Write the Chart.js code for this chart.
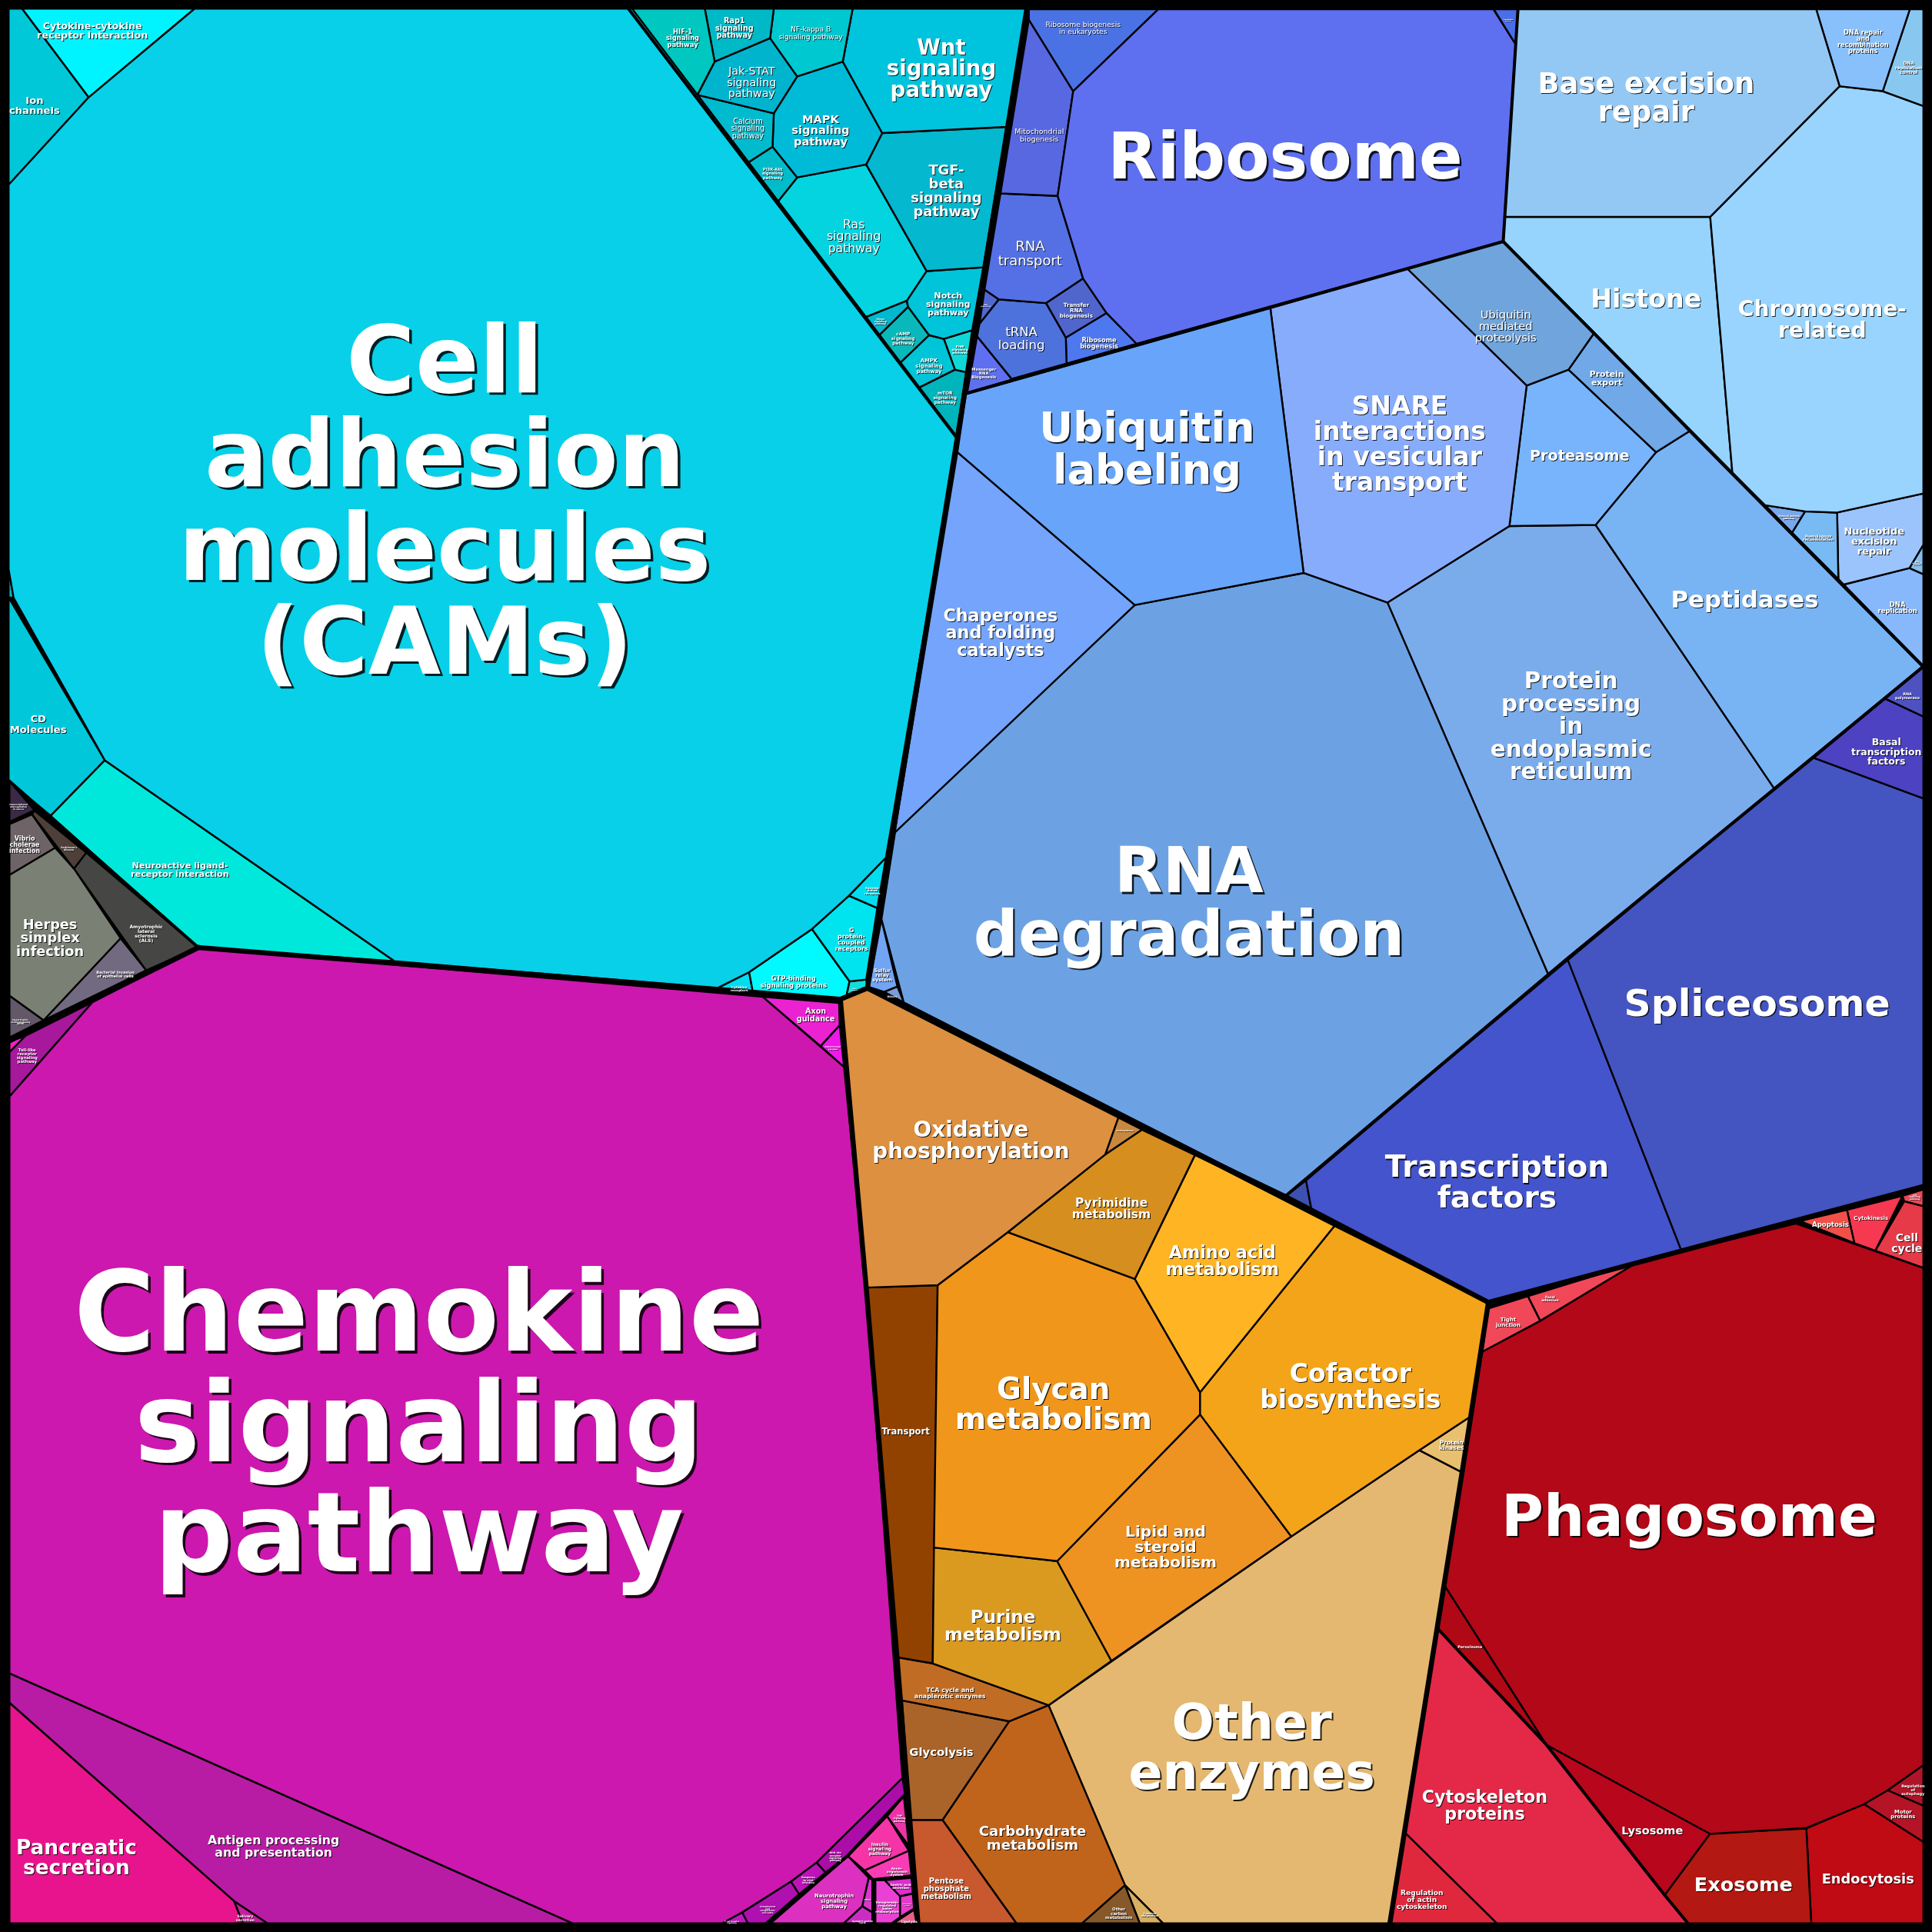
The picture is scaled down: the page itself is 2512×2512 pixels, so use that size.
<!DOCTYPE html>
<html lang="en">
<head>
<meta charset="UTF-8" />
<title>Proteomap</title>
<script src="https://cdn.jsdelivr.net/npm/chart.js"></script>
<style>
  html, body { margin: 0; padding: 0; background: #000; overflow: hidden; }
  #wrap { width: 2512px; height: 2512px; }
</style>
</head>
<body>
<div id="wrap"><canvas id="map"></canvas></div>
<script>
// one line per cell, same order in every array below
const cellNames = [
  // signaling, cyan
  "Cell\nadhesion\nmolecules\n(CAMs)", "Cytokine-cytokine\nreceptor interaction", "Ion\nchannels", "CD\nMolecules", "",
  "Neuroactive ligand-\nreceptor interaction", "HIF-1\nsignaling\npathway", "Rap1\nsignaling\npathway", "NF-kappa B\nsignaling pathway",
  "Wnt\nsignaling\npathway", "Jak-STAT\nsignaling\npathway", "Calcium\nsignaling\npathway", "MAPK\nsignaling\npathway",
  "PI3K-Akt\nsignaling\npathway", "TGF-\nbeta\nsignaling\npathway", "Ras\nsignaling\npathway", "Notch\nsignaling\npathway",
  "Hippo\nsignaling\npathway", "cAMP\nsignaling\npathway", "AMPK\nsignaling\npathway", "ErbB\nsignaling\npathway", "mTOR\nsignaling\npathway",
  "Enzyme-\nlinked\nreceptors", "G\nprotein-\ncoupled\nreceptors", "Other\nreceptors", "GTP-binding\nsignaling proteins", "Cytokine\nreceptors",
  // infection, grey
  "Transcriptional\nmisregulation\nin cancer", "Vibrio\ncholerae\ninfection", "Parkinson's\ndisease", "Herpes\nsimplex\ninfection",
  "Amyotrophic\nlateral\nsclerosis\n(ALS)", "Bacterial invasion\nof epithelial cells", "Hypertrophic\ncardiomyopathy\n(HCM)",
  // magenta
  "Chemokine\nsignaling\npathway", "Toll-like\nreceptor\nsignaling\npathway", "", "Axon\nguidance", "Dopaminergic\nsynapse",
  "Pancreatic\nsecretion", "Salivary\nsecretion", "Antigen processing\nand presentation",
  "NOD-like\nreceptor\nsignaling\npathway", "Response\nto viral\ninfection", "Complement\nand\ncoagulation\ncascades", "T cell receptor\nsignaling",
  "TNF\nsignaling\npathway", "Insulin\nsignaling\npathway", "Renin-\nangiotensin\nsystem", "Neurotrophin\nsignaling\npathway", "Prion",
  "Synaptic vesicle\ncycle", "Vasopressin-\nregulated\nwater\nreabsorption", "Gastric acid\nsecretion", "Serotonergic\nsynapse", "Lipolysis",
  // metabolism, orange
  "Oxidative\nphosphorylation", "Photosynthesis", "Pyrimidine\nmetabolism", "Amino acid\nmetabolism", "Cofactor\nbiosynthesis", "Protein\nkinases",
  "Glycan\nmetabolism", "Lipid and\nsteroid\nmetabolism", "Purine\nmetabolism", "Transport", "TCA cycle and\nanaplerotic enzymes",
  "Glycolysis", "Carbohydrate\nmetabolism", "Pentose\nphosphate\nmetabolism", "Other\ncarbon\nmetabolism", "Cysteine\nmetabolism", "Other\nenzymes",
  // ribosome, blue
  "Ribosome", "Ribosome biogenesis\nin eukaryotes", "Mitochondrial\nbiogenesis", "RNA\ntransport", "RNA\nprocessing",
  "Transfer\nRNA\nbiogenesis", "tRNA\nloading", "Ribosome\nbiogenesis", "Messenger\nRNA\nBiogenesis", "Translation\nfactors",
  // folding, light blue
  "Ubiquitin\nlabeling", "Chaperones\nand folding\ncatalysts", "SNARE\ninteractions\nin vesicular\ntransport", "Ubiquitin\nmediated\nproteolysis",
  "Protein\nexport", "Proteasome", "Peptidases", "RNA\ndegradation", "Sulfur\nrelay\nsystem", "Others", "Protein\nprocessing\nin\nendoplasmic\nreticulum",
  // transcription, indigo
  "RNA\npolymerase", "Basal\ntranscription\nfactors", "Spliceosome", "Transcription\nfactors", "",
  // DNA, pale blue
  "Base excision\nrepair", "DNA repair\nand\nrecombination\nproteins", "DNA\nreplication\ncontrol", "Chromosome-\nrelated", "Histone",
  "Fanconi anemia\npathway", "Homologous\nrecombination", "Nucleotide\nexcision\nrepair", "DNA\nreplication\nproteins", "DNA\nreplication",
  // cellular processes, red
  "Tight\njunction", "Focal\nadhesion", "Apoptosis", "Cytokinesis", "Cell\ncycle", "p53\nsignaling\npathway", "Phagosome", "Peroxisome",
  "Cytoskeleton\nproteins", "Regulation\nof actin\ncytoskeleton", "Lysosome", "Exosome", "Endocytosis", "Motor\nproteins", "Regulation\nof\nautophagy"
];

// these few are set in the lighter weight in the picture
const regularLabels = [
  "Ras\nsignaling\npathway", "Jak-STAT\nsignaling\npathway", "Calcium\nsignaling\npathway", "NF-kappa B\nsignaling pathway",
  "Ribosome biogenesis\nin eukaryotes", "Mitochondrial\nbiogenesis", "RNA\ntransport", "tRNA\nloading", "Ubiquitin\nmediated\nproteolysis"
];

// vertices, x,y,x,y... on a 0-1568 square
const cellOutlines = [
  [158,7,513,7,777,355,719,696,689,727,659,754,608,789,582,802,320,780,85,617,11,485,7,462,7,150,72,79],
  [18,7,158,7,72,79],
  [7,7,18,7,72,79,7,150],
  [7,485,85,617,41,662,7,634],
  [7,462,11,485,7,485],
  [85,617,320,780,161,769,41,662],
  [510,7,572,7,580,50,566,77],
  [572,7,628,7,625,31,580,50],
  [628,7,692,7,684,50,647,62,625,31],
  [692,7,833,7,817,103,716,108,684,50],
  [580,50,625,31,647,62,628,92,566,77],
  [566,77,628,92,627,119,607,132],
  [647,62,684,50,716,108,703,133.5,647,144,627,119,628,92],
  [607,132,627,119,647,144,631,164],
  [716,108,817,103,798,217,752,220,703,133.5],
  [647,144,703,133.5,752,220,736,244,702,257.5,631,164],
  [752,220,798,217,789,268,766,275,754,272,737,249,736,244],
  [702,257.5,736,244,737,249,713,272.5],
  [713,272.5,737,249,754,272,730,295],
  [730,295,754,272,766,275,775,300,745,315],
  [766,275,789,268,784,302,775,300],
  [745,315,775,300,784,302,776,356],
  [719,696,712,737,689,727],
  [689,727,712,737,703,795,689.5,796.5,659,754],
  [689.5,796.5,703,795,704,802,687,808],
  [608,789,659,754,689.5,796.5,687,808,682,811,611,805],
  [582,802,608,789,611,805],
  [7.7,634,28,657.5,7.7,667],
  [7.7,669,26,661,44.7,688,7.7,710],
  [28,658,70,692,60,705,26,661],
  [7.7,710,44.7,688,60,705,97.8,761.5,35.4,828,7.7,808],
  [70,692,161,769,118.6,787.5,60,705],
  [97.8,761.5,118.6,787.5,35.4,828],
  [7.7,808,35.4,828,7.7,842],
  [7.7,890,75,813.5,161,769,619,809,685,866,703,1045,732.4,1443,662.7,1511.6,642,1527,602.4,1552,586,1561,465,1561,7.7,1358],
  [75,813.5,7.7,890,7.7,854,20.8,840.6],
  [7.7,845,20.8,841,7.7,854],
  [619,809,681,814,681.5,832,666,849],
  [666,849,681.5,832,685,866],
  [7.7,1382,190,1543,197,1561,7.7,1561],
  [190,1543,217,1561,197,1561],
  [7.7,1358,465,1561,217,1561,190,1543,7.7,1382],
  [732.4,1443,734.5,1456.5,687.7,1506,670.4,1520,662.7,1511.6],
  [662.7,1511.6,670.4,1520,648.8,1537.7,642,1527],
  [642,1527,648.8,1537.7,622,1561,607,1561,602.4,1552],
  [602.4,1552,607,1561,586,1561],
  [720,1474,733.5,1457.5,737.6,1498],
  [688.3,1506.4,720,1474,737.6,1502,701.6,1518],
  [701.6,1518,737.6,1502,739.7,1522,708.5,1525],
  [688.3,1506.4,705,1524,699.8,1547,684.6,1561,625.3,1561],
  [705,1524,708,1525.6,708,1552,699.8,1547],
  [699.8,1547,708,1552,708,1561,684.6,1561],
  [710,1526,718,1526,730.4,1539,730.4,1556,723.7,1561,710,1561],
  [718,1526,739.7,1524,740.8,1536.6,730.4,1539],
  [730.4,1539,740.8,1537,741.8,1549,730.4,1556],
  [725,1561,741.8,1550,744,1561],
  [682,812,704,803,908,906,897,937,818,1000,761,1043,703,1045],
  [908,906,928,916,897,937],
  [928,916,970,937,921,1038,818,1000,897,937],
  [970,937,1083,995,974,1130,921,1038],
  [1083,995,1208,1057,1193,1150,1152,1177,1048,1247,974,1148,974,1130],
  [1152,1177,1193,1150,1186.6,1195],
  [761,1043,818,1000,921,1038,974,1130,974,1148,858,1267,758,1256],
  [974,1148,1048,1247,902,1348,858,1267],
  [758,1256,858,1267,902,1348,851,1384,757,1350],
  [703,1045,761,1043,757,1350,728,1345],
  [728,1345,757,1350,851,1384,819,1397,732,1380],
  [732,1380,819,1397,765,1477,739,1477],
  [819,1397,851,1384,913,1530,878,1561,825,1561,765,1477],
  [739,1477,765,1477,825,1561,745,1561],
  [913,1530,925,1561,878,1561],
  [913,1530,944,1561,925,1561],
  [851,1384,1048,1247,1152,1177,1186.6,1195,1128,1561,944,1561,913,1530],
  [940,7.5,1212,7.5,1230,36,1220,196,922.5,279,898,254,879,226,858.4,159,871,74],
  [835,7.5,940,7.5,871,74,835,16],
  [835,16,871,74,858.4,159,812,157],
  [812,157,858.4,159,879,226,849,246,810.6,243,799,235],
  [799,235,810.6,243,795,262.6],
  [879,226,898,254,865,274,849,246],
  [810.6,243,849,246,865,274,865.6,295,821,307.5,793,273,795,262.6],
  [898,254,922.5,279,865.6,295,865,274],
  [793,273,821.5,308,785,318.7],
  [1212.4,7.5,1232,7.5,1230,36],
  [784,320,1031,250,1058,465,921,491,777,367],
  [777,367,921,491,726,676],
  [1031,250,1142,218,1239,313,1225,427,1126,489,1058,465],
  [1142,218,1220,196,1294,270,1273,300,1239,313],
  [1294,270,1371,350,1344,367,1273,300],
  [1239,313,1273,300,1344,367,1295,426,1225,427],
  [1344,367,1371,350,1560,541,1440,640,1295,426],
  [727,672,921,491,1058,465,1126,489,1257,792,1043,971,733.5,813.5,715.4,746],
  [715.4,746,728.3,800.6,717.5,805,705,801],
  [717.5,805,728.3,800.6,733.5,813.5],
  [1126,489,1225,427,1295,426,1440,640,1257,792],
  [1530,567,1561,541,1561,581.5],
  [1530,567,1561,581.5,1561,648,1472,615],
  [1472,615,1561,648,1561,962,1365,1016,1272,778],
  [1272,778,1365,1016,1208,1057,1065,985,1060,958],
  [1043,971,1060,958,1065,985],
  [1232,7.5,1474,7.5,1493,70,1388,176,1221,176],
  [1474,7.5,1550,7.5,1528,74,1493,70],
  [1550,7.5,1561,7.5,1561,86,1528,74],
  [1388,176,1493,70,1528,74,1561,86,1561,400.5,1491,416,1465,415,1432.5,410,1406,384],
  [1221,176,1388,176,1406,384,1371,350,1220,196],
  [1432.5,410,1465,415,1454.4,432.4],
  [1465,415,1491,416,1492,470,1454.4,432.4],
  [1491,416,1561,400.5,1561,442,1549.7,461,1496.4,474.4,1492,470],
  [1561,442,1549.7,461,1561,466],
  [1496.4,474.4,1549.7,461,1561,466,1561,541],
  [1208,1062,1240,1052,1250,1072,1203,1097],
  [1240,1052,1328,1025,1250,1072],
  [1461,991,1499,982,1505,1009],
  [1499,982,1544,970.6,1522,1015,1505,1009],
  [1545.5,975,1561,979,1561,1029,1522,1015],
  [1544,970.6,1561,965.4,1561,979,1545.5,975],
  [1203,1097,1250,1072,1328,1025,1457.5,993,1561,1029,1561,1432.6,1532,1453,1512.6,1464.4,1465.8,1483.6,1388,1488.4,1255,1416,1170,1283],
  [1170,1283,1255,1416,1167,1322],
  [1167,1322,1255,1416,1351,1538,1370,1561,1215,1561,1138,1485],
  [1138,1485,1215,1561,1128,1561],
  [1255,1416,1388,1488,1351,1538],
  [1388,1488,1466,1484,1470,1561,1370,1561,1351,1538],
  [1466,1484,1512.6,1464,1561,1495,1561,1561,1470,1561],
  [1512.6,1464,1532,1453,1561,1465.5,1561,1495],
  [1532,1453,1561,1432.6,1561,1465.5]
];

const cellColors = [
  "#08d0e8","#00f4ff","#00c8d8","#00c8da","#00b8d0","#00e8dc","#00c7c0","#00b9c6","#00c8d0","#00c4de","#00b4ce","#00bbce","#00bbd8",
  "#00bccb","#04b8d0","#04d4e0","#00c4da","#00b8d0","#08b8ba","#00c4d8","#10d8d8","#00b4bc","#00dcf0","#00e4f0","#10dcdc","#00faff","#00dcf0",
  "#3a2a45","#6e6468","#4e4038","#7a8074","#464644","#726a80","#625868",
  "#cc18ae","#a8189c","#f020c8","#ea22d2","#f018e8","#e8148e","#c81e9e","#b81ca4","#ac0ca8","#bc14b8","#b010b0","#c018c0",
  "#ee32a8","#f534a8","#f83cb4","#dc30c0","#d838c8","#cc2cc4","#ec40d4","#e02cd0","#e83acc","#e86088",
  "#dc9040","#c88840","#d68e1e","#ffb424","#f4a418","#e8c070","#f0961a","#ee9222","#da9a20","#924200","#c06c24","#aa642a","#c0641c","#c8582e","#86582a","#d8b060","#e4b870",
  "#5e70f0","#4a72e4","#5868e0","#5470e4","#5068d0","#5066cc","#4e72dc","#4e78f0","#5e70f0","#4a6ee8",
  "#68a4fa","#74a4fc","#88acfc","#70a4dc","#70a8e8","#78b4fc","#78b4f4","#6ca2e4","#72a4f4","#7a9cd8","#7aacec",
  "#4e52c0","#4c42c2","#4454c0","#4454cc","#3e50b0",
  "#94c8f4","#88c0fc","#88c8f0","#98d4fe","#96d4fe","#78a8ec","#78baf4","#9cc4fc","#84c0f0","#88b8fc",
  "#f04858","#f04858","#f05048","#f63850","#e63a48","#ea4858","#b20818","#b00814","#e42848","#e0283c","#b8061c","#b41812","#c00a14","#b41426","#b01428"
];

// centre of each label and the width of its longest line, same units
const labelCentres = [
  [361,408],[75,24],[28,85],[31,587],[0,0],[146,705],[554,30],[596,22],[658,26],[764,55],[610,66],[607,103.5],[666,105],
  [627,140],[768,154],[693,191],[769.5,246],[714.5,260],[733,274],[754,296],[779,283],[767,322],[708,722],[691,761.5],[693,802],[644,796],[600,801.5],
  [15,654],[20,684.5],[56,688],[40.6,760.5],[118.6,757],[93.6,790],[16.6,828.5],
  [340,1157],[22,856],[0,0],[662,823],[676,849.5],[62,1507],[199,1556],[222,1498],[678,1506],[656,1525],[623,1549],[594,1559],
  [730,1475],[714,1500],[728,1518],[677,1542],[704,1541],[700,1559],[720,1547],[731,1530],[736,1545],[738,1559],
  [788,925],[913,917],[902,980],[992,1023],[1096,1125],[1178,1172],[855,1139],[946,1255],[814,1319],[735,1161],[771,1373],[764,1421],[838,1491],[768,1532],[908,1552],[933,1553],[1016,1418],
  [1043,128],[879,22],[843.5,109],[836,205],[800,247],[873.5,251],[829,274],[892,278],[798.5,302],[1224,15.6],
  [931,364],[812,513],[1136,360],[1222,264],[1304,306],[1282,369],[1416,486],[965,733],[716,790.6],[724,808],[1275,589],
  [1548,564],[1531,609.6],[1426,814],[1215,959],[0,0],
  [1336,79],[1512,33],[1549,54],[1479,259],[1336,242],[1452,418.6],[1475.6,435.7],[1521,438.6],[1555.7,456],[1540,492.5],
  [1224,1072],[1258,1053],[1485.6,993],[1518.5,988],[1547.6,1008],[1554,970.6],[1371,1231],[1193,1336],
  [1205,1465],[1154,1541],[1341,1485],[1415,1529],[1516,1524],[1544.5,1471.5],[1552.6,1452]
];
const labelWidths = [
  432,90,41,46,0,80,27,31,52,89,40,27,47,
  17,57.6,44,36,10,19,22,13,19,13,27,6,54,14,
  15,25,13,55,27,31,16,
  560,17,0,31,13,98,15,107,10,11,13,12,
  10,19,17,32,5,17,19,17,7,13,
  160,14,64,92,147,20,160,83,95,39,58,52,87,41,22,14,200,
  288,61,40,52,8,27,38,31,20,8,
  175,93,140,50,28,81,120,350,16,8,131,
  20,57,216,182,0,
  176,41.6,22,137,90,17,25,49,8,32,
  20,14,30,28,25,9,305,20,
  102,41,50,80,75,20,19
];

// borders between the big groups, drawn over the cells
const groupEdges = [
  [833.4,7,777,355,723,687,704,802],
  [704,802,682,811,583,803,161,769],
  [704,802,928,916,1043,971,1208,1057],
  [682,811,703,1045,728,1345,745,1561],
  [1208,1057,1186.6,1195,1128,1561],
  [161,769,7,845],
  [1208,1057,1328,1025,1561,963]
];
const subgroupEdges = [
  [7.7,634,161,769],
  [510,7,777,356],
  [785,319,1220,196],
  [1220,196,1232,7],
  [1220,196,1561,541],
  [1043,971,1272,778,1561,541],
  [734.5,1456.5,687.7,1506.4,670.4,1520,648.8,1537.7,622,1561],
  [710,1526,710,1561],
  [1167,1322,1255,1416,1351,1538,1370,1561]
];
const frameOutline = [0,0,1568,0,1568,1568,0,1568];

function toPoints(flat, closed) {
  const pts = [];
  for (let i = 0; i < flat.length; i += 2) pts.push({ x: flat[i], y: flat[i + 1] });
  if (closed) pts.push({ x: flat[0], y: flat[1] });
  return pts;
}

function lineSet(flat, width, closed) {
  return {
    data: toPoints(flat, closed), showLine: true, fill: false, borderColor: "#000", borderWidth: width,
    borderJoinStyle: "round", borderCapStyle: "round", pointRadius: 0, tension: 0, clip: false
  };
}

const datasets = [lineSet(frameOutline, 24, true)]
  .concat(groupEdges.map(e => lineSet(e, 6.5, false)))
  .concat(subgroupEdges.map(e => lineSet(e, 4, false)))
  .concat(cellOutlines.map((c, i) => ({
    label: cellNames[i].replace(/\n/g, " "),
    data: toPoints(c, true), showLine: true, fill: "shape", backgroundColor: cellColors[i],
    borderColor: "#000", borderWidth: 2.4, borderJoinStyle: "round", pointRadius: 0, tension: 0, clip: false
  })));

const FONT = '"DejaVu Sans"';

// labels go through the same scales as the cells
const labelPlugin = {
  id: "cellLabels",
  afterDatasetsDraw(chart) {
    const { ctx, scales } = chart;
    const unit = scales.x.getPixelForValue(1) - scales.x.getPixelForValue(0);
    ctx.save();
    ctx.textAlign = "center";
    ctx.textBaseline = "middle";
    cellNames.forEach((name, i) => {
      if (!name) return;
      const lines = name.split("\n");
      const target = labelWidths[i] * unit;
      const weight = regularLabels.includes(name) ? "normal" : "bold";
      ctx.font = weight + " 100px " + FONT;
      const widest = Math.max(...lines.map(l => ctx.measureText(l).width));
      const size = 100 * target / widest;
      ctx.font = weight + " " + size + "px " + FONT;
      const cx = scales.x.getPixelForValue(labelCentres[i][0]);
      const cy = scales.y.getPixelForValue(labelCentres[i][1]) + size * 0.05 + 1.5;
      const off = Math.min(3.5, Math.max(1, size * 0.03));
      lines.forEach((line, k) => {
        const y = cy + (k - (lines.length - 1) / 2) * size;
        ctx.fillStyle = "rgba(0,0,0,0.85)";
        ctx.fillText(line, cx + off, y + off);
        ctx.fillStyle = "#fff";
        ctx.fillText(line, cx, y);
      });
    });
    ctx.restore();
  }
};

new Chart(document.getElementById("map"), {
  type: "scatter",
  data: { datasets },
  plugins: [labelPlugin],
  options: {
    responsive: true,
    maintainAspectRatio: false,
    animation: false,
    devicePixelRatio: 1,
    layout: { padding: 0 },
    plugins: { legend: { display: false }, tooltip: { enabled: false } },
    scales: {
      x: { type: "linear", min: 0, max: 1568, display: false },
      y: { type: "linear", min: 0, max: 1568, reverse: true, display: false }
    }
  }
});
</script>
</body>
</html>
